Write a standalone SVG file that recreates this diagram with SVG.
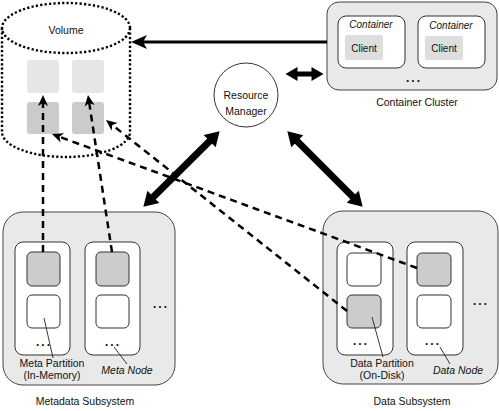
<svg xmlns="http://www.w3.org/2000/svg" width="499" height="411" viewBox="0 0 499 411">
<style>
text{font-family:"Liberation Sans",Arial,sans-serif;font-size:10.5px;fill:#111;text-anchor:middle}
.it{font-style:italic}
.dots{font-size:12px;font-weight:bold;letter-spacing:2px}
.sub{fill:#e9e9e9;stroke:#444;stroke-width:1}
.node{fill:#fff;stroke:#333;stroke-width:1}
.pw{fill:#fff;stroke:#333;stroke-width:1}
.pg{fill:#cccccc;stroke:#333;stroke-width:1}
.vl{fill:#e6e6e6}
.vd{fill:#cbcbcb}
.dot{fill:none;stroke:#000;stroke-width:2.4;stroke-dasharray:2.2 2.2}
.dash{fill:none;stroke:#000;stroke-width:2.5;stroke-dasharray:7 5;marker-end:url(#sm)}
.thick{stroke:#000;stroke-width:7;marker-start:url(#bh);marker-end:url(#bh)}
.leader{stroke:#222;stroke-width:0.9}
</style>
<defs>
<marker id="sm" markerUnits="userSpaceOnUse" markerWidth="14" markerHeight="12" viewBox="0 -6 12 12" refX="3" refY="0" orient="auto"><path d="M0,-5 L11,0 L0,5 L3,0 z" fill="#000"/></marker>
<marker id="bh" markerUnits="userSpaceOnUse" markerWidth="16" markerHeight="18" viewBox="0 -9 15 18" refX="0.5" refY="0" orient="auto-start-reverse"><path d="M0,-8.5 L14,0 L0,8.5 z" fill="#000"/></marker>
<marker id="hh" markerUnits="userSpaceOnUse" markerWidth="14" markerHeight="16" viewBox="0 -8 13 16" refX="0.5" refY="0" orient="auto-start-reverse"><path d="M0,-7 L12,0 L0,7 z" fill="#000"/></marker>
<marker id="vh" markerUnits="userSpaceOnUse" markerWidth="18" markerHeight="16" viewBox="0 -8 17 16" refX="4" refY="0" orient="auto"><path d="M0,-7 L16,0 L0,7 L4,0 z" fill="#000"/></marker>
</defs>

<g id="volume">
<ellipse class="dot" cx="66" cy="28" rx="64" ry="25"/>
<path class="dot" d="M2,28 L2,132 A64,25 0 0 0 130,132 L130,28"/>
<text x="66" y="34">Volume</text>
<rect class="vl" x="27" y="60" width="32" height="33" rx="3"/>
<rect class="vl" x="72" y="60" width="32" height="33" rx="3"/>
<rect class="vd" x="27" y="102" width="32" height="32" rx="3"/>
<rect class="vd" x="72" y="102" width="32" height="32" rx="3"/>
</g>

<g id="container-cluster">
<rect class="sub" x="327" y="2" width="170" height="88" rx="12"/>
<rect class="node" x="338" y="16" width="67" height="52" rx="8"/>
<rect class="node" x="418" y="16" width="67" height="52" rx="8"/>
<text class="it" x="371" y="28" style="font-size:10px">Container</text>
<text class="it" x="451" y="29" style="font-size:10px">Container</text>
<rect x="345" y="35" width="38" height="25" rx="2" fill="#dedede"/>
<rect x="425" y="36" width="38" height="24" rx="2" fill="#dedede"/>
<text x="364" y="52" style="font-size:10px">Client</text>
<text x="444" y="52" style="font-size:10px">Client</text>
<text class="dots" x="414" y="82">...</text>
<text x="417" y="106">Container Cluster</text>
</g>

<g id="resource-manager">
<circle cx="246" cy="95" r="32" fill="#fff" stroke="#333" stroke-width="1"/>
<text x="246" y="99">Resource</text>
<text x="246" y="115">Manager</text>
</g>

<g id="metadata-subsystem">
<rect class="sub" x="3" y="212" width="172" height="173" rx="20"/>
<rect class="node" x="15" y="242" width="55" height="113" rx="8"/>
<rect class="node" x="85" y="242" width="55" height="113" rx="8"/>
<rect class="pg" x="27" y="252" width="33" height="34" rx="5"/>
<rect class="pw" x="27" y="295" width="33" height="33" rx="5"/>
<rect class="pg" x="96" y="252" width="33" height="34" rx="5"/>
<rect class="pw" x="96" y="295" width="33" height="33" rx="5"/>
<text class="dots" x="44" y="346">...</text>
<text class="dots" x="113" y="346">...</text>
<text class="dots" x="161" y="308">...</text>
<line class="leader" x1="44" y1="318" x2="53" y2="358"/>
<line class="leader" x1="114" y1="347" x2="127" y2="364"/>
<text x="52" y="367">Meta Partition</text>
<text x="52" y="379">(In-Memory)</text>
<text class="it" x="127" y="374">Meta Node</text>
<text x="85" y="405">Metadata Subsystem</text>
</g>

<g id="data-subsystem">
<rect class="sub" x="323" y="211" width="175" height="173" rx="20"/>
<rect class="node" x="337" y="242" width="56" height="113" rx="8"/>
<rect class="node" x="407" y="242" width="56" height="113" rx="8"/>
<rect class="pw" x="347" y="253" width="34" height="33" rx="5"/>
<rect class="pg" x="347" y="295" width="34" height="33" rx="5"/>
<rect class="pg" x="417" y="253" width="34" height="33" rx="5"/>
<rect class="pw" x="417" y="295" width="34" height="33" rx="5"/>
<text class="dots" x="361" y="345">...</text>
<text class="dots" x="433" y="345">...</text>
<text class="dots" x="481" y="305">...</text>
<line class="leader" x1="372" y1="317" x2="383" y2="357"/>
<line class="leader" x1="440" y1="347" x2="450" y2="364"/>
<text x="382" y="367">Data Partition</text>
<text x="382" y="379">(On-Disk)</text>
<text class="it" x="458" y="374">Data Node</text>
<text x="412" y="405">Data Subsystem</text>
</g>

<g id="connectors">
<line x1="327" y1="42" x2="143" y2="42" stroke="#000" stroke-width="3" marker-end="url(#vh)"/>
<line x1="297" y1="74" x2="312" y2="74" stroke="#000" stroke-width="5" marker-start="url(#hh)" marker-end="url(#hh)"/>
<line class="thick" x1="210" y1="140.8" x2="153" y2="197.2"/>
<line class="thick" x1="296.9" y1="140.9" x2="353.1" y2="197.1"/>
<line class="dash" x1="43" y1="252" x2="43" y2="103"/>
<line class="dash" x1="112" y1="252" x2="89.2" y2="102.9"/>
<line class="dash" x1="417" y1="268" x2="59.5" y2="136.8"/>
<line class="dash" x1="347" y1="311" x2="112.3" y2="125"/>
</g>
</svg>
